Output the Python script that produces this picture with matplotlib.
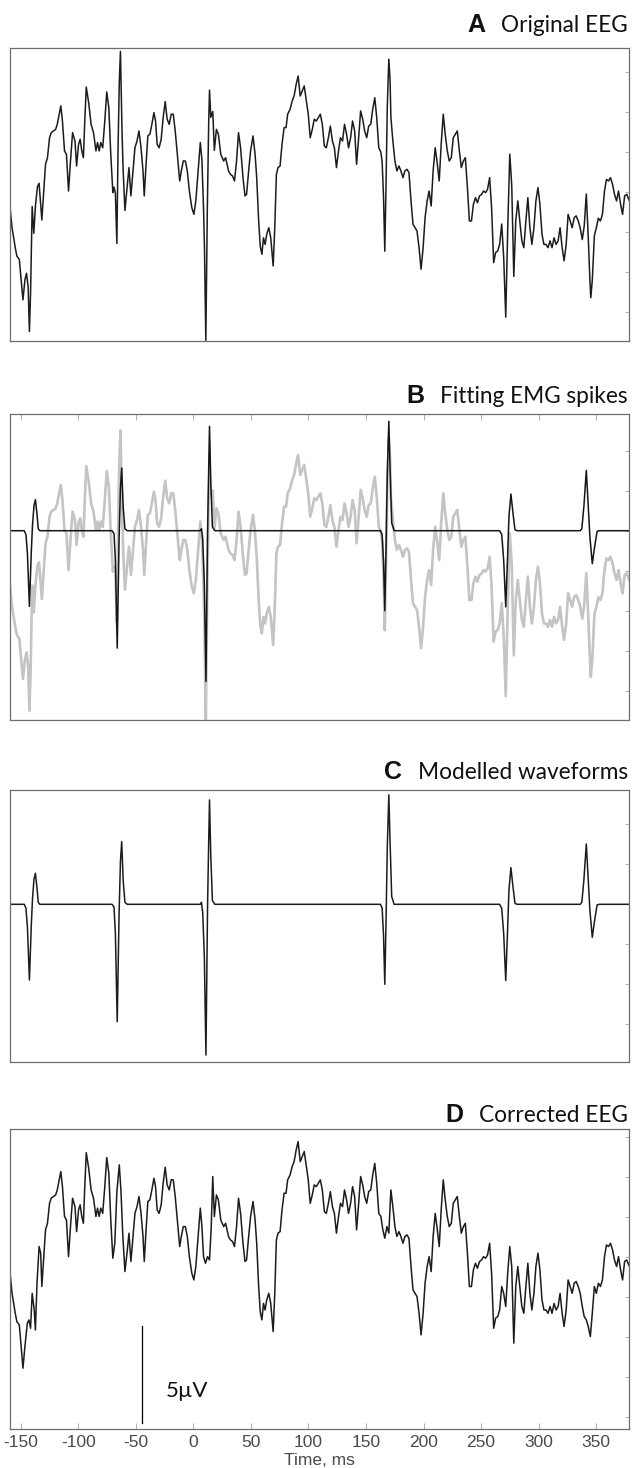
"""EMG spike removal figure: original EEG, fitted spikes, modelled waveforms, corrected EEG."""
import numpy as np
import matplotlib
matplotlib.use("Agg")
import matplotlib.pyplot as plt

plt.rcParams["axes.unicode_minus"] = False

# ---- data (time in ms, amplitude in uV) ----
corrected_eeg = [
    (-160.0, 8.47), (-157.6, 7.01), (-154.8, 5.98), (-153.4, 5.55), (-151.3, 5.38), (-149.9, 4.44),
    (-148.1, 3.15), (-146.4, 4.27), (-144.3, 5.47), (-142.9, 5.64), (-141.5, 5.21), (-140.1, 7.01),
    (-138.3, 6.15), (-137.3, 5.12), (-135.9, 7.53), (-134.1, 9.42), (-132.7, 9.08), (-131.7, 7.36),
    (-130.3, 8.65), (-128.5, 10.28), (-126.8, 10.62), (-125.0, 11.65), (-123.6, 11.91), (-121.5, 12.00),
    (-119.7, 12.08), (-118.3, 12.34), (-116.6, 12.86), (-115.2, 13.29), (-113.8, 12.51), (-112.0, 10.97),
    (-110.3, 10.79), (-108.5, 8.90), (-106.8, 10.45), (-105.0, 11.91), (-102.9, 11.48), (-101.5, 10.19),
    (-99.8, 11.31), (-98.4, 11.57), (-97.0, 10.97), (-95.6, 10.62), (-94.5, 12.34), (-93.1, 14.26),
    (-91.0, 13.46), (-88.9, 12.34), (-86.8, 11.91), (-84.7, 10.97), (-83.3, 11.40), (-81.9, 10.97),
    (-80.5, 11.40), (-78.8, 11.13), (-77.0, 12.51), (-75.3, 14.01), (-73.5, 13.20), (-71.8, 10.79),
    (-70.0, 8.82), (-68.3, 9.59), (-66.5, 12.25), (-64.4, 13.63), (-63.0, 12.34), (-61.3, 9.94),
    (-59.5, 8.13), (-57.4, 9.25), (-56.0, 10.11), (-54.3, 8.65), (-52.5, 9.94), (-50.8, 11.13),
    (-49.0, 11.48), (-47.3, 12.00), (-45.5, 11.13), (-43.8, 9.94), (-42.7, 8.65), (-41.3, 10.11),
    (-39.6, 11.74), (-37.8, 11.83), (-36.1, 12.34), (-34.3, 12.94), (-32.9, 12.51), (-31.5, 11.31),
    (-29.8, 11.13), (-28.0, 11.57), (-26.3, 12.68), (-24.5, 13.51), (-22.8, 12.60), (-21.0, 12.34),
    (-19.3, 12.86), (-17.5, 12.86), (-15.8, 12.00), (-14.0, 10.79), (-11.9, 9.42), (-10.5, 9.94),
    (-8.8, 10.45), (-7.0, 10.45), (-5.3, 9.94), (-3.5, 8.90), (-1.4, 8.05), (0.4, 7.70),
    (2.1, 8.39), (3.9, 9.76), (6.0, 11.40), (7.4, 10.45), (8.8, 8.90), (10.5, 8.56),
    (12.3, 8.90), (14.0, 8.73), (15.4, 10.28), (16.8, 13.03), (18.2, 10.97), (20.0, 12.08),
    (21.7, 11.83), (23.8, 10.79), (26.3, 10.45), (28.0, 10.62), (30.5, 9.94), (32.2, 9.76),
    (34.0, 9.68), (35.7, 9.42), (37.5, 10.45), (39.2, 11.91), (41.0, 11.13), (43.1, 9.59),
    (44.8, 8.65), (46.2, 8.73), (48.0, 9.94), (49.7, 10.97), (51.8, 11.74), (53.6, 10.79),
    (55.0, 9.59), (56.7, 7.36), (58.1, 6.05), (59.5, 5.64), (60.9, 6.49), (62.3, 6.15),
    (63.7, 6.67), (65.5, 7.01), (67.2, 6.49), (69.3, 5.04), (70.7, 7.01), (72.1, 9.76),
    (73.5, 10.11), (75.3, 10.19), (77.0, 11.31), (78.8, 12.17), (80.5, 12.17), (81.9, 12.86),
    (84.0, 13.11), (85.8, 13.54), (87.5, 13.80), (89.3, 14.40), (91.0, 14.83), (92.8, 13.80),
    (94.5, 14.06), (96.3, 14.32), (98.0, 13.63), (99.8, 12.86), (101.5, 11.65), (103.3, 12.08),
    (105.0, 12.60), (106.8, 12.51), (108.5, 12.68), (110.3, 12.86), (112.0, 12.34), (113.8, 11.22),
    (115.5, 11.13), (117.3, 11.65), (119.0, 12.25), (120.8, 11.48), (122.5, 11.13), (124.3, 10.11),
    (126.1, 10.97), (127.8, 11.65), (129.6, 11.48), (131.3, 12.34), (133.1, 11.83), (134.8, 11.13),
    (136.6, 11.65), (138.3, 12.51), (140.1, 12.00), (141.8, 10.28), (143.6, 11.65), (145.3, 13.03),
    (147.1, 12.60), (148.8, 12.00), (150.6, 11.65), (152.3, 12.25), (154.1, 12.34), (155.8, 13.11),
    (157.6, 13.71), (159.3, 12.68), (161.1, 11.13), (162.9, 10.97), (164.6, 10.28), (166.3, 9.85),
    (168.1, 10.45), (169.8, 10.11), (171.6, 12.34), (173.3, 11.48), (175.1, 10.45), (176.8, 9.94),
    (178.6, 10.19), (180.3, 9.94), (182.1, 9.59), (183.8, 9.94), (185.6, 10.02), (187.3, 9.85),
    (189.1, 8.39), (190.8, 7.19), (192.6, 7.01), (194.3, 6.84), (196.1, 5.98), (197.8, 4.87),
    (199.6, 5.98), (201.3, 7.53), (203.1, 8.39), (204.8, 8.90), (206.6, 8.13), (208.3, 9.94),
    (210.1, 11.13), (211.8, 10.36), (213.6, 9.42), (215.3, 11.31), (217.1, 12.86), (218.8, 11.83),
    (220.6, 10.97), (222.3, 10.45), (224.1, 10.62), (225.8, 11.65), (227.6, 11.83), (229.3, 12.00),
    (231.1, 10.97), (232.8, 10.11), (234.6, 10.45), (236.3, 10.62), (238.1, 9.08), (239.8, 7.36),
    (241.6, 7.36), (243.3, 8.22), (245.1, 8.56), (246.8, 8.30), (248.6, 8.65), (250.4, 8.73),
    (252.1, 8.90), (253.9, 8.82), (255.6, 8.99), (257.4, 9.59), (259.1, 8.05), (260.9, 5.21),
    (262.6, 5.73), (264.4, 5.81), (266.1, 6.15), (267.9, 7.36), (269.6, 7.01), (271.4, 6.33),
    (273.1, 8.05), (274.9, 9.42), (276.6, 8.39), (278.4, 4.44), (280.1, 7.36), (281.9, 8.39),
    (283.6, 7.36), (285.4, 6.33), (287.1, 5.98), (288.9, 7.36), (290.6, 8.56), (292.4, 7.01),
    (294.1, 6.15), (295.9, 7.01), (297.6, 8.39), (299.4, 9.08), (301.1, 8.22), (302.9, 6.67),
    (304.6, 6.15), (306.4, 6.15), (308.1, 5.98), (309.9, 6.33), (311.6, 5.98), (313.4, 6.49),
    (315.1, 6.15), (316.9, 6.33), (318.6, 7.01), (320.4, 5.98), (322.1, 5.30), (323.9, 6.15),
    (325.6, 7.70), (327.4, 7.36), (329.1, 7.01), (330.9, 7.53), (332.6, 7.62), (334.4, 7.36),
    (336.1, 7.01), (337.9, 6.33), (339.6, 5.81), (341.4, 5.64), (343.1, 5.30), (344.9, 4.78),
    (346.6, 5.98), (348.4, 7.36), (350.1, 7.01), (351.9, 7.53), (353.7, 7.36), (355.4, 7.70),
    (357.2, 8.90), (358.9, 9.50), (360.7, 9.42), (362.4, 9.59), (364.2, 9.25), (365.9, 8.73),
    (367.7, 8.39), (369.4, 8.90), (371.2, 8.22), (372.9, 7.70), (374.7, 8.65), (376.5, 8.73),
    (378.9, 8.39),
]

original_eeg = [
    (-160.0, 8.47), (-157.6, 7.01), (-154.8, 5.98), (-153.4, 5.55), (-151.3, 5.38), (-149.9, 4.44),
    (-148.1, 3.29), (-146.4, 4.32), (-145.0, 4.66), (-143.6, 3.97), (-142.5, 1.66), (-141.5, 3.63),
    (-140.1, 8.10), (-138.7, 6.72), (-137.3, 8.10), (-135.5, 9.13), (-134.1, 9.30), (-133.0, 8.44),
    (-131.7, 7.41),
    (-130.3, 8.65), (-128.5, 10.28), (-126.8, 10.62), (-125.0, 11.65), (-123.6, 11.91), (-121.5, 12.00),
    (-119.7, 12.08), (-118.3, 12.34), (-116.6, 12.86), (-115.2, 13.29), (-113.8, 12.51), (-112.0, 10.97),
    (-110.3, 10.79), (-108.5, 8.90), (-106.8, 10.45), (-105.0, 11.91), (-102.9, 11.48), (-101.5, 10.19),
    (-99.8, 11.31), (-98.4, 11.57), (-97.0, 10.97), (-95.6, 10.62), (-94.5, 12.34), (-93.1, 14.26),
    (-91.0, 13.46), (-88.9, 12.34), (-86.8, 11.91), (-84.7, 10.97), (-83.3, 11.40), (-81.9, 10.97),
    (-80.5, 11.40), (-78.8, 11.13), (-77.0, 12.51), (-75.3, 14.01), (-73.5, 13.20), (-71.8, 10.79),
    (-70.0, 8.82), (-69.0, 9.10), (-67.8, 8.80), (-66.5, 6.20), (-65.5, 11.00), (-64.4, 14.50),
    (-63.4, 16.10), (-62.0, 11.90), (-61.0, 9.90), (-59.5, 7.90),
    (-57.4, 9.25), (-56.0, 10.11), (-54.3, 8.65), (-52.5, 9.94), (-50.8, 11.13),
    (-49.0, 11.48), (-47.3, 12.00), (-45.5, 11.13), (-43.8, 9.94), (-42.7, 8.65), (-41.3, 10.11),
    (-39.6, 11.74), (-37.8, 11.83), (-36.1, 12.34), (-34.3, 12.94), (-32.9, 12.51), (-31.5, 11.31),
    (-29.8, 11.13), (-28.0, 11.57), (-26.3, 12.68), (-24.5, 13.51), (-22.8, 12.60), (-21.0, 12.34),
    (-19.3, 12.86), (-17.5, 12.86), (-15.8, 12.00), (-14.0, 10.79), (-11.9, 9.42), (-10.5, 9.94),
    (-8.8, 10.45), (-7.0, 10.45), (-5.3, 9.94), (-3.5, 8.90), (-1.4, 8.05), (0.4, 7.70),
    (2.1, 8.39), (3.9, 9.76), (6.0, 11.40), (7.4, 10.50), (8.8, 8.00), (9.6, 6.00),
    (10.8, 1.20), (12.1, 8.00), (13.3, 12.50), (14.0, 14.10), (15.1, 12.70), (16.8, 13.00),
    (18.2, 11.00), (20.0, 12.08),
    (21.7, 11.83), (23.8, 10.79), (26.3, 10.45), (28.0, 10.62), (30.5, 9.94), (32.2, 9.76),
    (34.0, 9.68), (35.7, 9.42), (37.5, 10.45), (39.2, 11.91), (41.0, 11.13), (43.1, 9.59),
    (44.8, 8.65), (46.2, 8.73), (48.0, 9.94), (49.7, 10.97), (51.8, 11.74), (53.6, 10.79),
    (55.0, 9.59), (56.7, 7.36), (58.1, 6.05), (59.5, 5.64), (60.9, 6.49), (62.3, 6.15),
    (63.7, 6.67), (65.5, 7.01), (67.2, 6.49), (69.3, 5.04), (70.7, 7.01), (72.1, 9.76),
    (73.5, 10.11), (75.3, 10.19), (77.0, 11.31), (78.8, 12.17), (80.5, 12.17), (81.9, 12.86),
    (84.0, 13.11), (85.8, 13.54), (87.5, 13.80), (89.3, 14.40), (91.0, 14.83), (92.8, 13.80),
    (94.5, 14.06), (96.3, 14.32), (98.0, 13.63), (99.8, 12.86), (101.5, 11.65), (103.3, 12.08),
    (105.0, 12.60), (106.8, 12.51), (108.5, 12.68), (110.3, 12.86), (112.0, 12.34), (113.8, 11.22),
    (115.5, 11.13), (117.3, 11.65), (119.0, 12.25), (120.8, 11.48), (122.5, 11.13), (124.3, 10.11),
    (126.1, 10.97), (127.8, 11.65), (129.6, 11.48), (131.3, 12.34), (133.1, 11.83), (134.8, 11.13),
    (136.6, 11.65), (138.3, 12.51), (140.1, 12.00), (141.8, 10.28), (143.6, 11.65), (145.3, 13.03),
    (147.1, 12.60), (148.8, 12.00), (150.6, 11.65), (152.3, 12.25), (154.1, 12.34), (155.8, 13.11),
    (157.6, 13.71), (159.3, 12.68), (161.1, 11.13), (162.9, 10.90), (164.0, 10.40), (165.2, 8.60),
    (166.3, 5.80), (167.4, 9.30), (168.5, 13.30), (169.8, 15.70), (170.9, 14.60), (171.6, 12.70),
    (173.3, 11.50), (175.1, 10.45), (176.8, 9.94),
    (178.6, 10.19), (180.3, 9.94), (182.1, 9.59), (183.8, 9.94), (185.6, 10.02), (187.3, 9.85),
    (189.1, 8.39), (190.8, 7.19), (192.6, 7.01), (194.3, 6.84), (196.1, 5.98), (197.8, 4.87),
    (199.6, 5.98), (201.3, 7.53), (203.1, 8.39), (204.8, 8.90), (206.6, 8.13), (208.3, 9.94),
    (210.1, 11.13), (211.8, 10.36), (213.6, 9.42), (215.3, 11.31), (217.1, 12.86), (218.8, 11.83),
    (220.6, 10.97), (222.3, 10.45), (224.1, 10.62), (225.8, 11.65), (227.6, 11.83), (229.3, 12.00),
    (231.1, 10.97), (232.8, 10.11), (234.6, 10.45), (236.3, 10.62), (238.1, 9.08), (239.8, 7.36),
    (241.6, 7.36), (243.3, 8.22), (245.1, 8.56), (246.8, 8.30), (248.6, 8.65), (250.4, 8.73),
    (252.1, 8.90), (253.9, 8.82), (255.6, 8.99), (257.4, 9.59), (259.1, 8.05), (260.9, 5.21),
    (262.6, 5.73), (264.4, 5.81), (266.1, 6.15), (267.9, 7.20), (269.6, 5.50), (271.4, 2.40),
    (273.1, 6.90), (274.9, 10.80), (276.6, 9.20), (278.4, 4.50), (280.1, 7.36), (281.9, 8.39),
    (283.6, 7.36), (285.4, 6.33), (287.1, 5.98), (288.9, 7.36), (290.6, 8.56), (292.4, 7.01),
    (294.1, 6.15), (295.9, 7.01), (297.6, 8.39), (299.4, 9.08), (301.1, 8.22), (302.9, 6.67),
    (304.6, 6.15), (306.4, 6.15), (308.1, 5.98), (309.9, 6.33), (311.6, 5.98), (313.4, 6.49),
    (315.1, 6.15), (316.9, 6.33), (318.6, 7.01), (320.4, 5.98), (322.1, 5.30), (323.9, 6.15),
    (325.6, 7.70), (327.4, 7.36), (329.1, 7.01), (330.9, 7.53), (332.6, 7.62), (334.4, 7.36),
    (336.1, 7.00), (337.9, 6.40), (339.6, 7.10), (341.4, 8.75), (343.1, 6.50), (344.4, 4.50),
    (345.3, 3.40), (346.6, 4.30), (348.4, 6.60), (350.1, 7.00), (351.9, 7.50), (353.7, 7.36),
    (355.4, 7.70), (357.2, 8.90), (358.9, 9.50), (360.7, 9.42), (362.4, 9.59), (364.2, 9.25),
    (365.9, 8.73), (367.7, 8.39), (369.4, 8.90), (371.2, 8.22), (372.9, 7.70), (374.7, 8.65),
    (376.5, 8.73), (378.9, 8.39),
]

modelled_emg = [
    (-160.0, 0.0),
    (-147.0, 0.0), (-145.5, -0.2), (-144.2, -1.2), (-142.5, -3.9), (-140.8, -1.0), (-139.8, 0.3),
    (-138.5, 1.3), (-137.3, 1.6), (-136.0, 0.9), (-134.8, 0.1), (-133.5, 0.0),
    (-70.7, 0.0), (-69.0, -0.15), (-67.8, -1.5), (-66.2, -6.05), (-64.6, -0.5), (-63.4, 2.2),
    (-62.3, 3.23), (-61.0, 1.2), (-59.5, 0.1), (-57.5, 0.0),
    (6.0, 0.0), (7.0, 0.1), (8.1, -0.45), (9.5, -2.7), (10.9, -7.77), (12.3, -0.1),
    (13.3, 3.3), (14.0, 5.38), (15.1, 2.5), (16.5, 0.2), (18.6, 0.0),
    (162.5, 0.0), (164.0, -0.2), (165.2, -1.6), (166.3, -4.12), (167.4, -0.8), (168.5, 3.0),
    (169.8, 5.64), (170.9, 3.2), (172.3, 0.4), (174.4, 0.0),
    (266.0, 0.0), (267.9, -0.2), (269.6, -1.5), (271.4, -3.93), (273.1, -1.15), (274.2, 0.75),
    (275.9, 1.89), (277.7, 0.9), (279.4, 0.05), (281.2, 0.0),
    (336.1, 0.0), (337.5, 0.1), (339.3, 1.25), (341.4, 3.11), (343.1, 1.25), (344.5, -0.3),
    (346.6, -1.70), (348.7, -0.8), (350.8, -0.03), (352.6, 0.0),
    (379.0, 0.0),
]

time_ticks = [-150, -100, -50, 0, 50, 100, 150, 200, 250, 300, 350]
scale_bar_uv = 5

panel_letters = ["A", "B", "C", "D"]
panel_names = ["Original EEG", "Fitting EMG spikes", "Modelled waveforms", "Corrected EEG"]

# ---- layout (pixels of a 632 x 1468 canvas) ----
W, H = 632, 1468
fig = plt.figure(figsize=(W / 100, H / 100), dpi=100)
XL, XR = 9.5, 629.0
boxes = [(47.5, 341.0), (413.7, 719.7), (790.0, 1061.7), (1129.0, 1429.3)]
ylims = [(1.17, 16.30), (1.19, 16.96), (-8.11, 5.89), (0.0, 15.48)]
title_base = [32.5, 403.0, 779.3, 1121.7]
XLIM = (-159.8, 378.5)
B_OFFSET = 10.93          # baseline of the modelled trace drawn over panel B
TICK_STEP = 2.06


def px_rect(top, bottom):
    return [XL / W, 1 - bottom / H, (XR - XL) / W, (bottom - top) / H]


def split(pairs):
    a = np.array(pairs, dtype=float)
    return a[:, 0], a[:, 1]


t_o, v_o = split(original_eeg)
t_c, v_c = split(corrected_eeg)
t_m, v_m = split(modelled_emg)

label_font = ["Lato", "DejaVu Sans"]
tick_font = ["Liberation Sans Narrow", "Liberation Sans", "DejaVu Sans"]

axes, name_texts = [], []
for i, (top, bot) in enumerate(boxes):
    ax = fig.add_axes(px_rect(top, bot))
    ax.set_xlim(*XLIM)
    ax.set_ylim(*ylims[i])
    for s in ax.spines.values():
        s.set_color("#6e6e6e")
        s.set_linewidth(0.9)
    base = 0.0 if i == 2 else B_OFFSET
    lo, hi = ylims[i]
    k0 = int(np.ceil((lo - base) / TICK_STEP))
    k1 = int(np.floor((hi - base) / TICK_STEP))
    ax.set_yticks([base + k * TICK_STEP for k in range(k0, k1 + 1)])
    ax.set_xticks(time_ticks)
    ax.tick_params(axis="y", left=False, right=True, labelleft=False, direction="in",
                   length=3, width=0.7, color="#b0b0b0")
    ax.tick_params(axis="x", bottom=(i == 3), top=(i == 1), labelbottom=(i == 3),
                   direction="in", length=4, width=0.7, color="#b0b0b0",
                   labelsize=12.5, labelcolor="#4a4a4a", pad=4)
    axes.append(ax)
    name_texts.append(fig.text(628 / W, 1 - title_base[i] / H, panel_names[i],
                               ha="right", va="baseline", fontsize=16.3,
                               family=label_font, color="#111111"))

# panel letters just left of the panel names
fig.canvas.draw()
renderer = fig.canvas.get_renderer()
for i, txt in enumerate(name_texts):
    bb = txt.get_window_extent(renderer)
    fig.text((bb.x0 - 16) / W, 1 - title_base[i] / H, panel_letters[i], ha="right",
             va="baseline", fontsize=18, fontweight="bold",
             family=["Liberation Sans", "DejaVu Sans"], color="#111111")

axA, axB, axC, axD = axes
line_kw = dict(solid_joinstyle="round", solid_capstyle="round")
axA.plot(t_o, v_o, color="#1c1c1c", lw=1.1, **line_kw)
axB.plot(t_o, v_o, color="#c4c4c4", lw=1.9, **line_kw)
axB.plot(t_m, v_m + B_OFFSET, color="#151515", lw=1.1, **line_kw)
axC.plot(t_m, v_m, color="#1c1c1c", lw=1.1, **line_kw)
axD.plot(t_c, v_c, color="#1c1c1c", lw=1.1, **line_kw)

for lab in axD.get_xticklabels():
    lab.set_family(tick_font)
axD.set_xlabel("Time, ms", fontsize=12.5, color="#4a4a4a", family=tick_font, labelpad=2)

# 5 uV scale bar
axD.plot([-45, -45], [0.31, 0.31 + scale_bar_uv], color="black", lw=0.9)
axD.text(-24, 2.0, f"{scale_bar_uv}\u00b5V", ha="left", va="center", fontsize=16,
         family=label_font, color="#111111")

fig.savefig("out.png", dpi=100)
